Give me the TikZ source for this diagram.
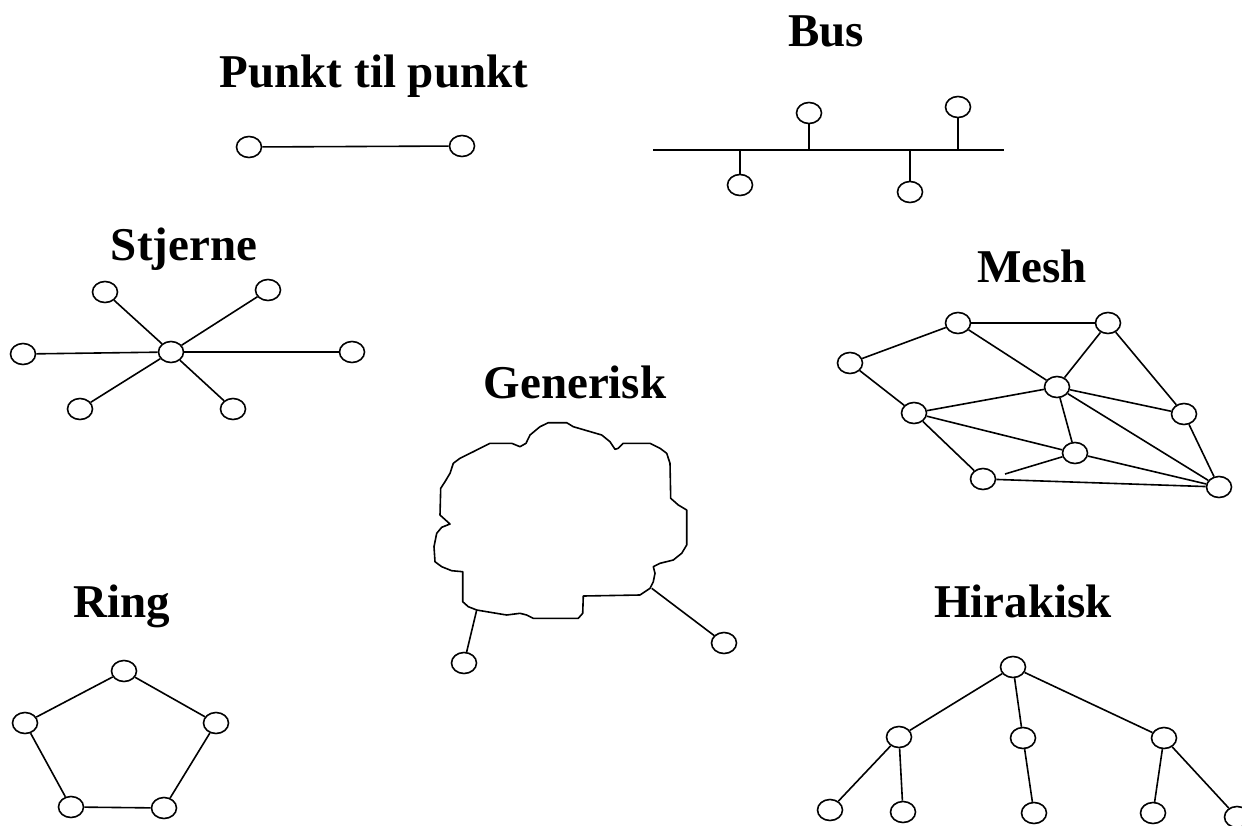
\documentclass[tikz,border=0pt]{standalone}
\usepackage{fontspec}
\setmainfont{Liberation Serif}
\usetikzlibrary{shapes.geometric}
\begin{document}
\begin{tikzpicture}[x=1pt,y=-1pt,
  host/.style={draw,ellipse,line width=1.6pt,minimum width=25pt,minimum height=21pt,inner sep=0pt},
  link/.style={line width=1.6pt},
  heading/.style={anchor=base,inner sep=0pt,font=\bfseries\fontsize{47}{50}\selectfont}]
\useasboundingbox (0,0) rectangle (1242,825);
\clip (0,0) rectangle (1242,825);

% headings
\node[heading] (tP) at (374,87) {Punkt til punkt};
\node[heading] (tB) at (826,46) {Bus};
\node[heading] (tS) at (184,260) {Stjerne};
\node[heading] (tM) at (1032,282) {Mesh};
\node[heading] (tG) at (575,398) {Generisk};
\node[heading] (tR) at (122,617) {Ring};
\node[heading] (tH) at (1023,617) {Hirakisk};

% point to point
\node[host] (p1) at (249,147) {};
\node[host] (p2) at (462,146) {};
\draw[link] (p1) -- (p2);

% bus
\coordinate (bL) at (653,150);
\coordinate (bR) at (1004,150);
\draw[link] (bL) -- (bR);
\node[host] (b1) at (740,185) {};
\node[host] (b2) at (809,113) {};
\node[host] (b3) at (910,192) {};
\node[host] (b4) at (958,107) {};
\coordinate (t1) at (740,150);
\coordinate (t2) at (809,150);
\coordinate (t3) at (910,150);
\coordinate (t4) at (958,150);
\draw[link] (t1) -- (b1);
\draw[link] (t2) -- (b2);
\draw[link] (t3) -- (b3);
\draw[link] (t4) -- (b4);

% star
\node[host] (sc) at (171,352) {};
\node[host] (s1) at (105,292) {};
\node[host] (s2) at (268,290) {};
\node[host] (s3) at (23,354) {};
\node[host] (s4) at (352,352) {};
\node[host] (s5) at (80,409) {};
\node[host] (s6) at (233,409) {};
\foreach \n in {s1,s2,s3,s4,s5,s6} \draw[link] (sc) -- (\n);

% mesh
\node[host] (mA) at (958,323) {};
\node[host] (mB) at (1108,323) {};
\node[host] (mC) at (850,363) {};
\node[host] (mD) at (1057,387) {};
\node[host] (mE) at (914,413) {};
\node[host] (mF) at (1184,414) {};
\node[host] (mG) at (1075,453) {};
\node[host] (mH) at (983,479) {};
\node[host] (mI) at (1219,487) {};
\coordinate (mX) at (1005,474);
\draw[link] (mA) -- (mB);
\draw[link] (mA) -- (mC);
\draw[link] (mA) -- (mD);
\draw[link] (mB) -- (mD);
\draw[link] (mB) -- (mF);
\draw[link] (mC) -- (mE);
\draw[link] (mE) -- (mD);
\draw[link] (mE) -- (mG);
\draw[link] (mE) -- (mH);
\draw[link] (mD) -- (mF);
\draw[link] (mD) -- (mG);
\draw[link] (mD) -- (mI);
\draw[link] (mF) -- (mI);
\draw[link] (mG) -- (mI);
\draw[link] (mH) -- (mI);
\draw[link] (mG) -- (mX);

% generic network cloud
\draw[link,line join=round] (548.3,422.7) -- (566.7,422.7) -- (573.3,426.7) -- (601.7,435)
  -- (610,441.7) -- (615,449.3) -- (618.3,448.3) -- (623.3,443.3) -- (650,443.3)
  -- (660,448.3) -- (666.7,453.3) -- (670,463.3) -- (670.7,498.3) -- (678.3,505)
  -- (686.7,510) -- (686.7,545) -- (681.7,553.3) -- (673.3,560) -- (660,563.3)
  -- (653.3,566.7) -- (655,573.3) -- (653.3,581.7) -- (650,588.3) -- (640,595)
  -- (583.3,596) -- (582.7,613.3) -- (578.3,618.3) -- (533.3,618.3) -- (526.7,615)
  -- (520,613.3) -- (506.7,615) -- (486.7,611.7) -- (476.7,610) -- (468.3,606.7)
  -- (462.7,601.7) -- (462.7,571.7) -- (451.7,570.7) -- (441.7,566.7) -- (435,561.7)
  -- (434,546.7) -- (436.7,533.3) -- (441.7,527.3) -- (450,524) -- (440,515)
  -- (440.7,488.3) -- (445,481.7) -- (450,473.3) -- (453.3,463.3) -- (460,458.3)
  -- (473.3,451.7) -- (490,443.3) -- (511.7,443.3) -- (520,446.7) -- (526,443.3)
  -- (530,435) -- (540,426.7) -- cycle;
\coordinate (gL) at (476.7,610);
\coordinate (gR) at (651.7,588.3);
\node[host] (g1) at (464,663) {};
\node[host] (g2) at (724,643) {};
\draw[link] (gL) -- (g1);
\draw[link] (gR) -- (g2);

% ring
\node[host] (r1) at (124,671) {};
\node[host] (r2) at (216,723) {};
\node[host] (r3) at (164,808) {};
\node[host] (r4) at (71,807) {};
\node[host] (r5) at (25,723) {};
\draw[link] (r1) -- (r2) -- (r3) -- (r4) -- (r5) -- (r1);

% hierarchy
\node[host] (h0) at (1013,667) {};
\node[host] (h1) at (899,737) {};
\node[host] (h2) at (1023,738) {};
\node[host] (h3) at (1164,738) {};
\node[host] (h11) at (830,810) {};
\node[host] (h12) at (903,812) {};
\node[host] (h21) at (1034,813) {};
\node[host] (h31) at (1153,813) {};
\node[host] (h32) at (1237,817) {};
\draw[link] (h0) -- (h1);
\draw[link] (h0) -- (h2);
\draw[link] (h0) -- (h3);
\draw[link] (h1) -- (h11);
\draw[link] (h1) -- (h12);
\draw[link] (h2) -- (h21);
\draw[link] (h3) -- (h31);
\draw[link] (h3) -- (h32);
\end{tikzpicture}
\end{document}
